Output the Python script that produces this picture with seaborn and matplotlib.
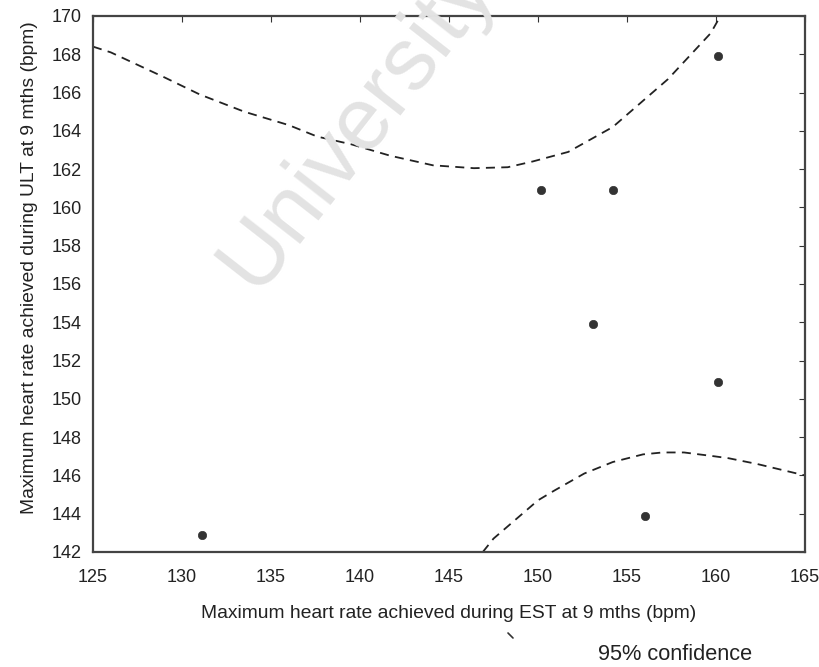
import matplotlib
matplotlib.use("Agg")
import matplotlib.pyplot as plt
from matplotlib.lines import Line2D
import seaborn as sns
import pandas as pd

# Observed points (EST vs ULT max heart rate at 9 months)
est_points = [131.1, 150.15, 154.2, 153.1, 160.1, 160.1, 156.0]
ult_points = [142.9, 160.9, 160.9, 153.9, 167.9, 150.9, 143.9]

# Upper 95% confidence curve
upper_x = [125.0, 126.0, 129.0, 131.0, 133.5, 136.0, 137.6, 139.5, 141.7, 144.1,
           146.4, 148.3, 149.7, 151.7, 154.2, 157.3, 159.7, 160.25]
upper_y = [168.4, 168.1, 166.8, 165.9, 165.0, 164.3, 163.7, 163.3, 162.7, 162.2,
           162.05, 162.1, 162.4, 162.9, 164.2, 166.7, 169.1, 170.0]

# Lower 95% confidence curve
lower_x = [146.9, 147.5, 148.5, 150.0, 150.9, 152.6, 154.2, 155.9, 157.0, 158.2,
           159.9, 160.7, 162.3, 165.0]
lower_y = [142.0, 142.7, 143.5, 144.7, 145.2, 146.1, 146.7, 147.1, 147.2, 147.2,
           147.0, 146.9, 146.6, 146.0]

x_ticks = [125, 130, 135, 140, 145, 150, 155, 160, 165]
y_ticks = list(range(142, 171, 2))

xlabel = "Maximum heart rate achieved during EST at 9 mths (bpm)"
ylabel = "Maximum heart rate achieved during ULT at 9 mths (bpm)"
caption = "95% confidence"
watermark = "University"

sns.set_style("white")
plt.rcParams["font.family"] = ["Liberation Sans", "DejaVu Sans"]
plt.rcParams["xtick.direction"] = "in"
plt.rcParams["ytick.direction"] = "in"

fig = plt.figure(figsize=(8.19, 6.67), dpi=100)
ax = fig.add_axes([93 / 819, 1 - 552 / 667, (805 - 93) / 819, (552 - 16) / 667])

# watermark
fig.text(357 / 819, 1 - 125 / 667, watermark, fontsize=64, color="#e3e3e3",
         rotation=52, ha="center", va="center", zorder=0)
ax.set_facecolor("none")

pts = pd.DataFrame({"est": est_points, "ult": ult_points})
up = pd.DataFrame({"x": upper_x, "y": upper_y})
lo = pd.DataFrame({"x": lower_x, "y": lower_y})

sns.lineplot(data=up, x="x", y="y", ax=ax, sort=False, color="#222222",
             linewidth=1.3, linestyle=(0, (5, 3.5)))
sns.lineplot(data=lo, x="x", y="y", ax=ax, sort=False, color="#222222",
             linewidth=1.3, linestyle=(0, (5, 3.5)))
sns.scatterplot(data=pts, x="est", y="ult", ax=ax, color="#333333", s=36,
                edgecolor="#333333", linewidth=0.5, zorder=5)

ax.set_xlim(125, 165)
ax.set_ylim(142, 170)
ax.set_xticks(x_ticks)
ax.set_yticks(y_ticks)
ax.tick_params(axis="both", which="both", direction="in", length=4, width=0.8,
               colors="#333333", labelsize=13, top=True, right=True,
               labelcolor="#222222")
ax.tick_params(axis="x", pad=12)
ax.tick_params(axis="y", pad=8)
for s in ax.spines.values():
    s.set_visible(True)
    s.set_color("#444444")
    s.set_linewidth(1.6)

ax.set_xlabel(xlabel, fontsize=13.9, color="#222222", labelpad=14)
ax.set_ylabel(ylabel, fontsize=13.9, color="#222222")
ax.yaxis.set_label_coords((38 - 93) / 712, (552 - 268) / 536)

fig.text(675 / 819, 1 - 655 / 667, caption, fontsize=15.7, color="#222222",
         ha="center", va="center")
fig.add_artist(Line2D([508 / 819, 513 / 819], [1 - 633 / 667, 1 - 638 / 667],
                      transform=fig.transFigure, color="#333333", linewidth=1.2))

fig.savefig("out.png", dpi=100)
